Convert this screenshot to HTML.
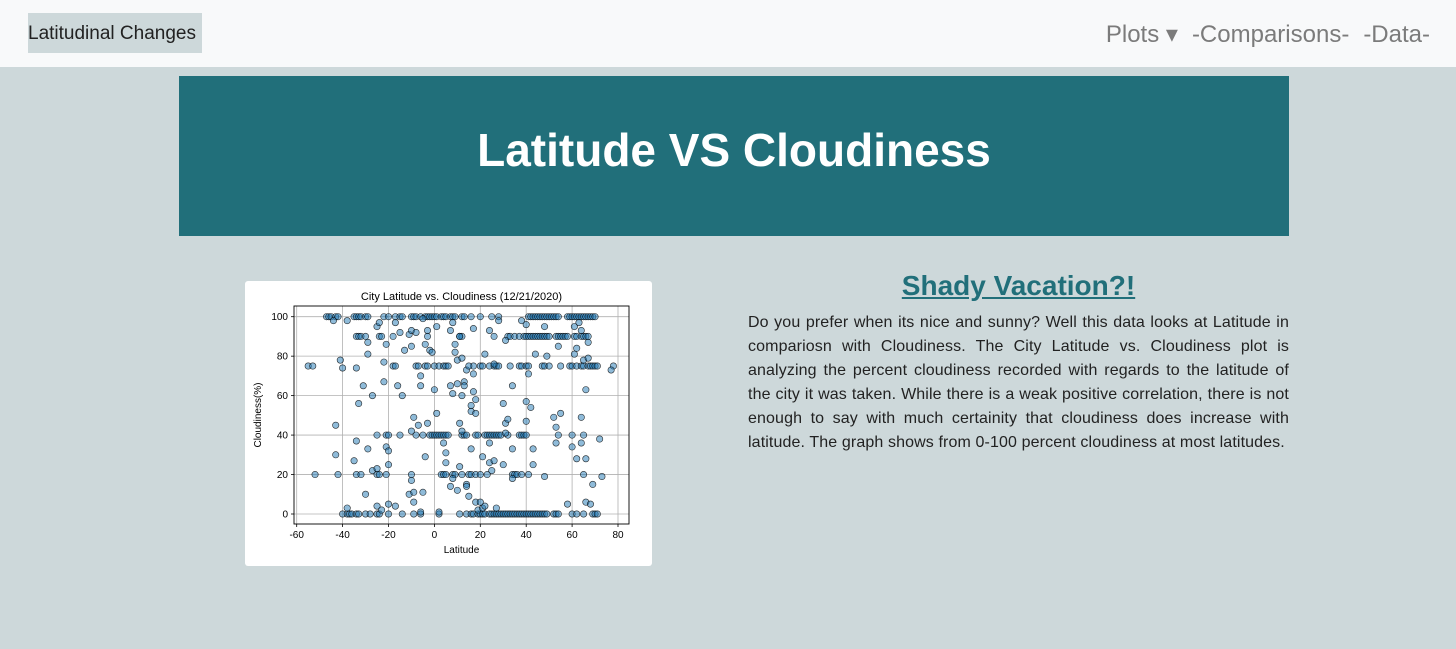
<!DOCTYPE html>
<html><head><meta charset="utf-8">
<style>
body{margin:0;width:1456px;height:649px;background:#cdd8da;font-family:"Liberation Sans",sans-serif;position:relative;overflow:hidden}
.nav{position:absolute;left:0;top:0;width:1456px;height:67px;background:#f8f9fa}
.brand{position:absolute;left:28px;top:13px;width:174px;height:40px;background:#cdd8da;font-size:19px;line-height:42px;color:#222;white-space:nowrap}
.links{position:absolute;right:26px;top:20px;font-size:24px;color:#7b7b7b;white-space:nowrap}
.links span{margin-left:14px}
.banner{position:absolute;left:179px;top:76px;width:1110px;height:160px;background:#216f7a;color:#fff;font-weight:bold;font-size:46px;text-align:center;line-height:148px}
.card{position:absolute;left:245px;top:281px;width:407px;height:285px;background:#fff;border-radius:3px}
h2{position:absolute;left:748px;width:541px;top:270px;margin:0;text-align:center;font-size:28px;color:#216f7a;text-decoration:underline}
p{position:absolute;left:748px;top:311px;width:541px;margin:0;font-size:16px;letter-spacing:0.12px;line-height:24px;text-align:justify;color:#222}
</style></head><body>
<div class="nav">
<div class="brand">Latitudinal Changes</div>
<div class="links"><span>Plots ▾</span><span>-Comparisons-</span><span>-Data-</span></div>
</div>
<div class="banner">Latitude VS Cloudiness</div>
<div class="card">
<svg id="chart" width="407" height="285" font-family="Liberation Sans, sans-serif"></svg>
</div>
<h2>Shady Vacation?!</h2>
<p>Do you prefer when its nice and sunny? Well this data looks at Latitude in compariosn with Cloudiness. The City Latitude vs. Cloudiness plot is analyzing the percent cloudiness recorded with regards to the latitude of the city it was taken. While there is a weak positive correlation, there is not enough to say with much certainity that cloudiness does increase with latitude. The graph shows from 0-100 percent cloudiness at most latitudes.</p>
<script>
const xTicks=[-60,-40,-20,0,20,40,60,80];
const yTicks=[0,20,40,60,80,100];
const lat100=[-47,-46,-45,-43,-42,-35,-34,-33,-32,-30,-29,-22,-20,-17,-15,-14,-10,-9,-8,-6,-4,-3,-2,-1,0,1,3,4,5,7,8,9,12,13,16,20,25,28,41,42,43,44,45,46,47,48,49,50,51,52,53,54,58,59,60,61,62,63,64,65,66,67,68,69,70];
const lat90=[-34,-33,-32,-30,-24,-18,11,12,32,33,35,37,39,40,41,42,43,44,45,46,47,48,49,50,53,54,55,56,57,58,61,62,64,65,66,67];
const lat75=[-55,-53,-18,-17,-8,-7,-4,-3,0,2,4,5,6,17,20,21,24,26,27,28,33,37,38,40,41,47,48,50,55,59,60,62,64,65,67,68,69,70,71,78];
const lat40=[-25,-21,-20,-15,-8,-5,-2,-1,0,1,2,3,4,5,6,12,13,14,18,19,22,23,24,25,26,27,28,29,32,37,38,39,40,54,60,65];
const lat20=[-52,-42,-34,-32,-25,-24,-21,-10,3,4,5,8,9,12,15,16,18,20,23,34,35,36,38,41,65];
const lat0=[-40,-38,-37,-36,-34,-33,-30,-28,-25,-24,-20,-14,-9,-6,2,11,14,16,17,19,20,21,22,24,25,26,27,28,29,30,31,32,33,34,35,36,37,38,39,40,41,42,43,44,45,46,47,48,49,52,53,54,60,62,65,69,70,71];
const otherLat=[-44,-38,-25,-24,-23,-21,-29,-29,-41,-40,-34,-31,-27,-22,-22,-17,-16,-15,-14,-13,-11,-10,-10,-8,-6,-6,-5,-4,-3,-3,-2,-1,0,1,1,7,7,8,8,9,9,10,10,11,12,13,13,12,14,15,16,16,17,17,17,18,18,22,24,26,26,28,30,31,31,32,34,38,40,40,40,41,42,44,48,49,52,53,53,55,54,61,61,62,63,64,65,66,67,67,64,64,60,62,66,69,72,73,77,-43,-43,-35,-34,-33,-29,-27,-25,-21,-20,-20,-30,-25,-20,-17,-23,-38,-11,-10,-9,-9,-5,-6,-9,-10,-7,-3,-4,4,5,5,7,8,10,11,11,12,14,14,15,16,18,19,20,21,21,22,24,24,25,26,27,30,31,34,34,43,43,48,2,66,68,58];
const otherCloud=[98,98,95,97,90,86,87,81,78,74,74,65,60,67,77,97,65,92,60,83,91,93,85,92,70,65,99,86,90,93,83,82,63,95,51,65,93,97,61,82,86,78,66,90,79,67,65,60,73,75,55,52,94,71,62,58,51,81,93,76,90,98,56,88,46,48,65,98,96,57,47,71,54,81,95,80,49,44,36,51,85,95,81,84,97,93,78,63,87,79,49,36,34,28,28,15,38,19,73,45,30,27,37,56,33,22,23,34,32,25,10,4,5,4,2,3,10,17,11,6,11,1,49,42,45,46,29,36,31,26,14,18,12,24,46,42,15,14,9,33,6,2,6,3,29,4,36,26,22,27,3,25,41,33,18,25,33,19,1,6,5,5];
const NS='http://www.w3.org/2000/svg';
const svg=document.getElementById('chart');
const L=49,R=384,T=25,B=243;
const x=v=>51.7+(v+60)*(373-51.7)/140;
const y=v=>233-v*(233-35.7)/100;
function mk(t,a){const e=document.createElementNS(NS,t);for(const k in a)e.setAttribute(k,a[k]);svg.appendChild(e);return e;}
xTicks.forEach(v=>{
 const g=mk('line',{x1:x(v),x2:x(v),y1:T,y2:B,stroke:'#b0b0b0','stroke-width':0.8});
 
 
 mk('line',{x1:x(v),x2:x(v),y1:B,y2:B+3,stroke:'#000','stroke-width':0.8});
 const t=mk('text',{x:x(v),y:B+14,'font-size':10,'text-anchor':'middle',fill:'#000'});t.textContent=v;
 
 
});
yTicks.forEach(v=>{
 const g=mk('line',{x1:L,x2:R,y1:y(v),y2:y(v),stroke:'#b0b0b0','stroke-width':0.8});
 
 
 mk('line',{x1:L-3,x2:L,y1:y(v),y2:y(v),stroke:'#000','stroke-width':0.8});
 const t=mk('text',{x:L-6,y:y(v)+3.5,'font-size':10,'text-anchor':'end',fill:'#000'});t.textContent=v;
 
 
});
const pts=[];
lat100.forEach(v=>pts.push([v,100]));
lat90.forEach(v=>pts.push([v,90]));
lat75.forEach(v=>pts.push([v,75]));
lat40.forEach(v=>pts.push([v,40]));
lat20.forEach(v=>pts.push([v,20]));
lat0.forEach(v=>pts.push([v,0]));
otherLat.forEach((v,i)=>pts.push([v,otherCloud[i]]));
pts.forEach(p=>{
 const c=mk('circle',{cx:x(p[0]),cy:y(p[1]),r:3.2,fill:'rgba(31,119,180,0.5)',stroke:'#000','stroke-width':0.6,'stroke-opacity':0.8});
 
 
});
const fr=mk('rect',{x:L,y:T,width:R-L,height:B-T,fill:'none',stroke:'#000','stroke-width':0.9});


const ti=mk('text',{x:(L+R)/2,y:19,'font-size':11,'text-anchor':'middle',fill:'#000'});ti.textContent='City Latitude vs. Cloudiness (12/21/2020)';


const xl=mk('text',{x:(L+R)/2,y:272,'font-size':10,'text-anchor':'middle',fill:'#000'});xl.textContent='Latitude';


const yl=mk('text',{x:0,y:0,'font-size':10,'text-anchor':'middle',fill:'#000',transform:'translate(16,'+((T+B)/2)+') rotate(-90)'});yl.textContent='Cloudiness(%)';


</script>
</body></html>
